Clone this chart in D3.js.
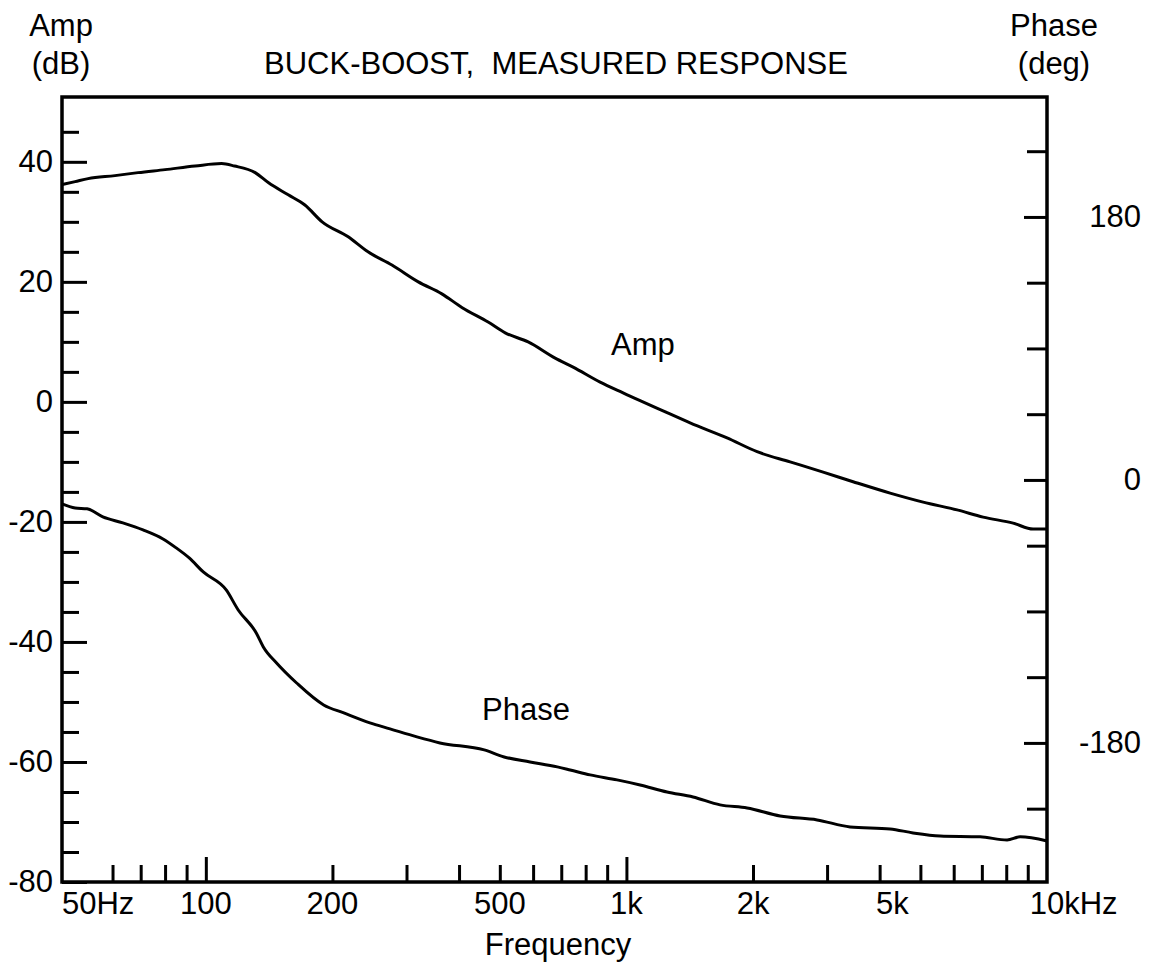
<!DOCTYPE html>
<html>
<head>
<meta charset="utf-8">
<script src="https://cdn.jsdelivr.net/npm/d3@7"></script>
<style>
  body { margin: 0; background: #fff; }
  text { font-family: "Liberation Sans", Arial, sans-serif; fill: #000; }
</style>
</head>
<body>
<div id="chart"></div>
<script>
// Amplitude curve (Hz, dB)
let ampFreq = [45.5, 48.9, 52.5, 60.8, 69, 80, 94.3, 109, 117, 131,
  141, 157, 172, 189, 218, 243, 277, 320, 364, 407,
  469, 515, 584, 677, 747, 866, 982, 1249, 1417, 1735,
  2045, 2450, 2936, 3459, 4236, 5076, 6113, 7049, 8308, 9268, 10000];
let ampDb = [36.2, 36.7, 37.2, 37.7, 38.2, 38.7, 39.3, 39.7, 39.3, 38.2,
  36.5, 34.5, 32.8, 30.0, 27.5, 25.0, 22.8, 20.0, 18.0, 15.7,
  13.3, 11.5, 10.0, 7.3, 5.8, 3.3, 1.5, -1.8, -3.5, -6.0,
  -8.3, -10.0, -11.7, -13.3, -15.2, -16.7, -18.0, -19.2, -20.2, -21.2, -21.2];

// Phase curve (Hz, deg)
let phaseFreq = [45.5, 48.9, 52.2, 56.9, 63.5, 70.9, 79.1, 85, 91.3, 98.6,
  111.8, 119.4, 131.8, 137, 147.3, 164.4, 190.6, 212.8, 245.5, 274.1,
  317.6, 360.3, 459.1, 512, 590, 685, 735, 820, 950, 1078,
  1249, 1440, 1670, 1936, 2320, 2841, 3403, 4236, 4805, 5570,
  6934, 8037, 8630, 10000];
let phaseDeg = [-16.4, -19.2, -19.8, -25.3, -29.4, -34.2, -40.4, -46.5, -53.4, -63.0,
  -75.3, -89.0, -104.7, -114.3, -125.3, -139.0, -154.0, -159.5, -166.3, -170.4,
  -175.9, -180.0, -184.8, -189.6, -193.0, -196.4, -198.5, -201.9, -205.3, -208.8,
  -213.6, -217.0, -222.4, -224.5, -230.0, -232.7, -237.5, -238.9, -241.6, -243.7,
  -244.3, -246.4, -244.3, -247.1];

// Ticks and tick labels
let dbMinorTicks = [-75, -70, -65, -55, -50, -45, -35, -30, -25, -15, -10, -5, 5, 10, 15, 25, 30, 35, 45];
let dbLabelTicks = [-80, -60, -40, -20, 0, 20, 40];
let phaseMinorTicks = [-225, -135, -90, -45, 45, 90, 135, 225];
let phaseLabelTicks = [-180, 0, 180];
let freqMinorTicks = [60, 70, 80, 90, 200, 300, 400, 500, 600, 700, 800, 900,
  2000, 3000, 4000, 5000, 6000, 7000, 8000, 9000];
let freqDecadeTicks = [100, 1000];
let freqLabelTicks = [50, 100, 200, 500, 1000, 2000, 5000, 10000];
let freqLabelText = ["50Hz", "100", "200", "500", "1k", "2k", "5k", "10kHz"];
let freqLabelUnit = ["Hz", "", "", "", "", "", "", "kHz"];

// Define SVG area dimensions
let svgWidth = 1153;
let svgHeight = 972;

let chartMargin = {
  top: 97,
  right: 106,
  bottom: 90,
  left: 62
};

let chartWidth = svgWidth - chartMargin.left - chartMargin.right;
let chartHeight = svgHeight - chartMargin.top - chartMargin.bottom;

let svg = d3.select("#chart")
  .append("svg")
  .attr("width", svgWidth)
  .attr("height", svgHeight);

let chartGroup = svg.append("g")
  .attr("transform", `translate(${chartMargin.left}, ${chartMargin.top})`);

// Scales
let xLogScale = d3.scaleLog()
  .domain([45.5, 10000])
  .range([0, chartWidth]);

let yAmpScale = d3.scaleLinear()
  .domain([-80, 50.8])
  .range([chartHeight, 0]);

let yPhaseScale = d3.scaleLinear()
  .domain([-275.2, 262.1])
  .range([chartHeight, 0]);

let fontSize = 31;
// plain hyphen for negatives, like the original plot
let plainFormat = d => String(d);

function styleAxis(g) {
  g.select(".domain").remove();
  g.selectAll(".tick line").attr("stroke", "#000").attr("stroke-width", 3);
  g.attr("font-size", fontSize).attr("font-family", null);
}

// Left axis (dB), ticks pointing inward
chartGroup.append("g")
  .call(d3.axisLeft(yAmpScale).tickValues(dbMinorTicks).tickSizeInner(-17).tickSizeOuter(0).tickFormat(""))
  .call(styleAxis);

chartGroup.append("g")
  .call(d3.axisLeft(yAmpScale).tickValues(dbLabelTicks).tickSizeInner(-25).tickSizeOuter(0).tickPadding(9).tickFormat(plainFormat))
  .call(styleAxis);

// Right axis (deg)
let rightAxis = chartGroup.append("g")
  .attr("transform", `translate(${chartWidth}, 0)`);

rightAxis.append("g")
  .call(d3.axisRight(yPhaseScale).tickValues(phaseMinorTicks).tickSizeInner(-20).tickSizeOuter(0).tickFormat(""))
  .call(styleAxis);

rightAxis.append("g")
  .call(d3.axisRight(yPhaseScale).tickValues(phaseLabelTicks).tickSizeInner(-23).tickSizeOuter(0).tickFormat(plainFormat))
  .call(styleAxis)
  .selectAll("text")
  .attr("text-anchor", "end")
  .attr("x", 94);

// Bottom axis (frequency)
let bottomGroup = chartGroup.append("g")
  .attr("transform", `translate(0, ${chartHeight})`);

bottomGroup.append("g")
  .call(d3.axisBottom(xLogScale).tickValues(freqMinorTicks).tickSizeInner(-17).tickSizeOuter(0).tickFormat(""))
  .call(styleAxis);

bottomGroup.append("g")
  .call(d3.axisBottom(xLogScale).tickValues(freqDecadeTicks).tickSizeInner(-25).tickSizeOuter(0).tickFormat(""))
  .call(styleAxis);

// frequency labels: number centred on tick, unit trailing
bottomGroup.selectAll(".flabel")
  .data(freqLabelTicks)
  .enter()
  .append("text")
  .attr("class", "flabel")
  .attr("font-size", fontSize)
  .attr("y", 32)
  .text((d, i) => freqLabelText[i])
  .each(function(d, i) {
    let n = freqLabelText[i].length - freqLabelUnit[i].length;
    let w = this.getSubStringLength(0, n);
    let shift = d === 5000 ? -28 : 0; // the 5k label sits left of its tick in the source
    d3.select(this).attr("x", xLogScale(d) - w / 2 + shift);
  });

// Frame
chartGroup.append("rect")
  .attr("x", 0)
  .attr("y", 0)
  .attr("width", chartWidth)
  .attr("height", chartHeight)
  .attr("fill", "none")
  .attr("stroke", "#000")
  .attr("stroke-width", 3.5);

// Curves
let ampLine = d3.line()
  .x((d, i) => xLogScale(ampFreq[i]))
  .y(d => yAmpScale(d))
  .curve(d3.curveMonotoneX);

let phaseLine = d3.line()
  .x((d, i) => xLogScale(phaseFreq[i]))
  .y(d => yPhaseScale(d))
  .curve(d3.curveMonotoneX);

chartGroup.append("path")
  .attr("d", ampLine(ampDb))
  .attr("fill", "none")
  .attr("stroke", "#000")
  .attr("stroke-width", 3);

chartGroup.append("path")
  .attr("d", phaseLine(phaseDeg))
  .attr("fill", "none")
  .attr("stroke", "#000")
  .attr("stroke-width", 3);

// Curve names
chartGroup.append("text")
  .attr("x", 549)
  .attr("y", 258)
  .attr("font-size", fontSize)
  .text("Amp");

chartGroup.append("text")
  .attr("x", 420)
  .attr("y", 623)
  .attr("font-size", fontSize)
  .text("Phase");

// Titles
svg.append("text")
  .attr("x", 556)
  .attr("y", 74)
  .attr("text-anchor", "middle")
  .attr("font-size", fontSize)
  .style("white-space", "pre")
  .text("BUCK-BOOST,  MEASURED RESPONSE");

svg.append("text")
  .attr("x", 61)
  .attr("y", 36)
  .attr("text-anchor", "middle")
  .attr("font-size", fontSize)
  .text("Amp");

svg.append("text")
  .attr("x", 61)
  .attr("y", 74)
  .attr("text-anchor", "middle")
  .attr("font-size", fontSize)
  .text("(dB)");

svg.append("text")
  .attr("x", 1054)
  .attr("y", 36)
  .attr("text-anchor", "middle")
  .attr("font-size", fontSize)
  .text("Phase");

svg.append("text")
  .attr("x", 1054)
  .attr("y", 74)
  .attr("text-anchor", "middle")
  .attr("font-size", fontSize)
  .text("(deg)");

// X axis label
chartGroup.append("text")
  .attr("x", 496)
  .attr("y", chartHeight + 73)
  .attr("text-anchor", "middle")
  .attr("font-size", fontSize)
  .text("Frequency");
</script>
</body>
</html>
